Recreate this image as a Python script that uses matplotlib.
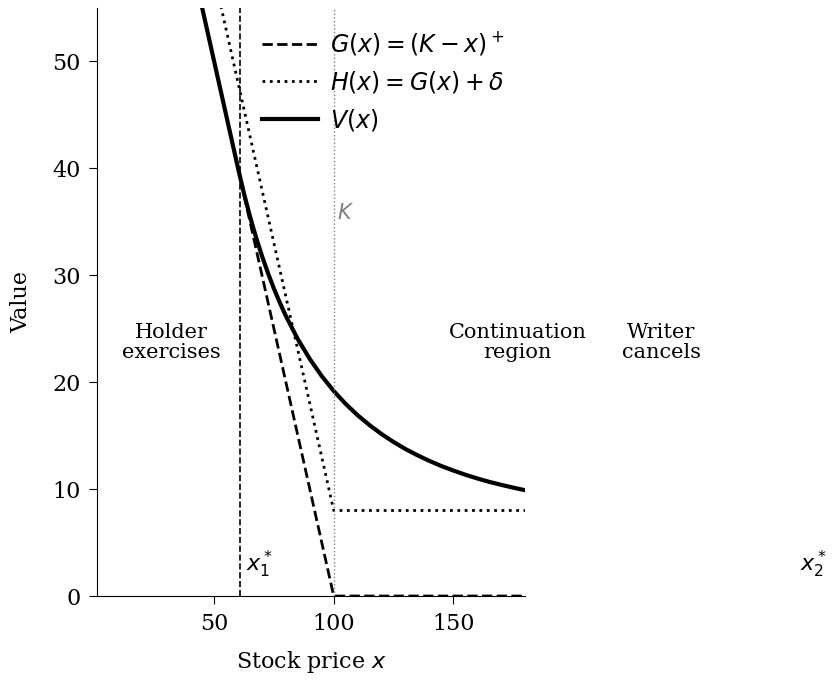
import numpy as np
import matplotlib
matplotlib.use("Agg")
import matplotlib.pyplot as plt

plt.rcParams['font.family'] = ['DejaVu Serif']

# 参数
K = 100
delta = 8
x1_star = 60.8
x2_star = 295

# 收益函数 G 和 H（折线端点）
g_x = [45, 100, 180]
g_y = [55, 0, 0]
h_x = [45, 100, 180]
h_y = [63, 8, 8]

# 价值函数 V
v_x = [45, 60, 62.5, 65, 67.5, 70, 72.5, 75, 77.5, 80, 85, 90, 95, 100,
       105, 110, 115, 120, 125, 130, 135, 140, 145, 150, 155, 160, 165,
       170, 175, 180]
v_y = [55.0, 40.0, 37.63, 35.49, 33.56, 31.81, 30.21, 28.75, 27.42, 26.19,
       24.02, 22.17, 20.57, 19.18, 17.97, 16.91, 15.98, 15.15, 14.41, 13.75,
       13.17, 12.64, 12.16, 11.74, 11.35, 11.00, 10.68, 10.40, 10.14, 9.90]

# 区域标签
region_labels = ["Holder\nexercises", "Continuation\nregion", "Writer\ncancels"]
region_x = [32, 177, 237]
region_y = 23.7

fig = plt.figure(figsize=(8.34, 6.8), dpi=100)
ax = fig.add_axes([0.1163, 0.1235, 0.5132, 0.8647])

ax.plot(g_x, g_y, 'k--', lw=2, label=r'$G(x) = (K - x)^+$')
ax.plot(h_x, h_y, 'k:', lw=2, label=r'$H(x) = G(x) + \delta$')
ax.plot(v_x, v_y, 'k-', lw=3, label=r'$V(x)$', solid_joinstyle='round')

ax.axvline(x1_star, color='k', ls='--', lw=1.2)
ax.axvline(K, color='gray', ls=':', lw=1)
ax.text(K + 1.5, 35.8, r'$K$', color='gray', fontsize=15, va='center', ha='left')

ax.text(x1_star + 2.5, 1.5, r'$x_1^*$', fontsize=16, ha='left', va='bottom')
ax.text(x2_star, 1.5, r'$x_2^*$', fontsize=16, ha='left', va='bottom', clip_on=False)

for lab, xx in zip(region_labels, region_x):
    ax.text(xx, region_y, lab, ha='center', va='center', fontsize=15,
            linespacing=1.05, clip_on=False)

ax.set_xlim(1, 180)
ax.set_ylim(0, 55)
ax.set_xticks([50, 100, 150])
ax.set_yticks([0, 10, 20, 30, 40, 50])
ax.tick_params(labelsize=16, length=6, pad=6)
ax.spines['top'].set_visible(False)
ax.spines['right'].set_visible(False)
ax.set_xlabel(r'Stock price $x$', fontsize=16, labelpad=10)
ax.set_ylabel('Value', fontsize=16, labelpad=14)

ax.legend(loc='upper right', frameon=False, fontsize=17, handlelength=2.37,
          labelspacing=0.5, handletextpad=0.5, borderaxespad=0.5)

fig.savefig('out.png', dpi=100)
